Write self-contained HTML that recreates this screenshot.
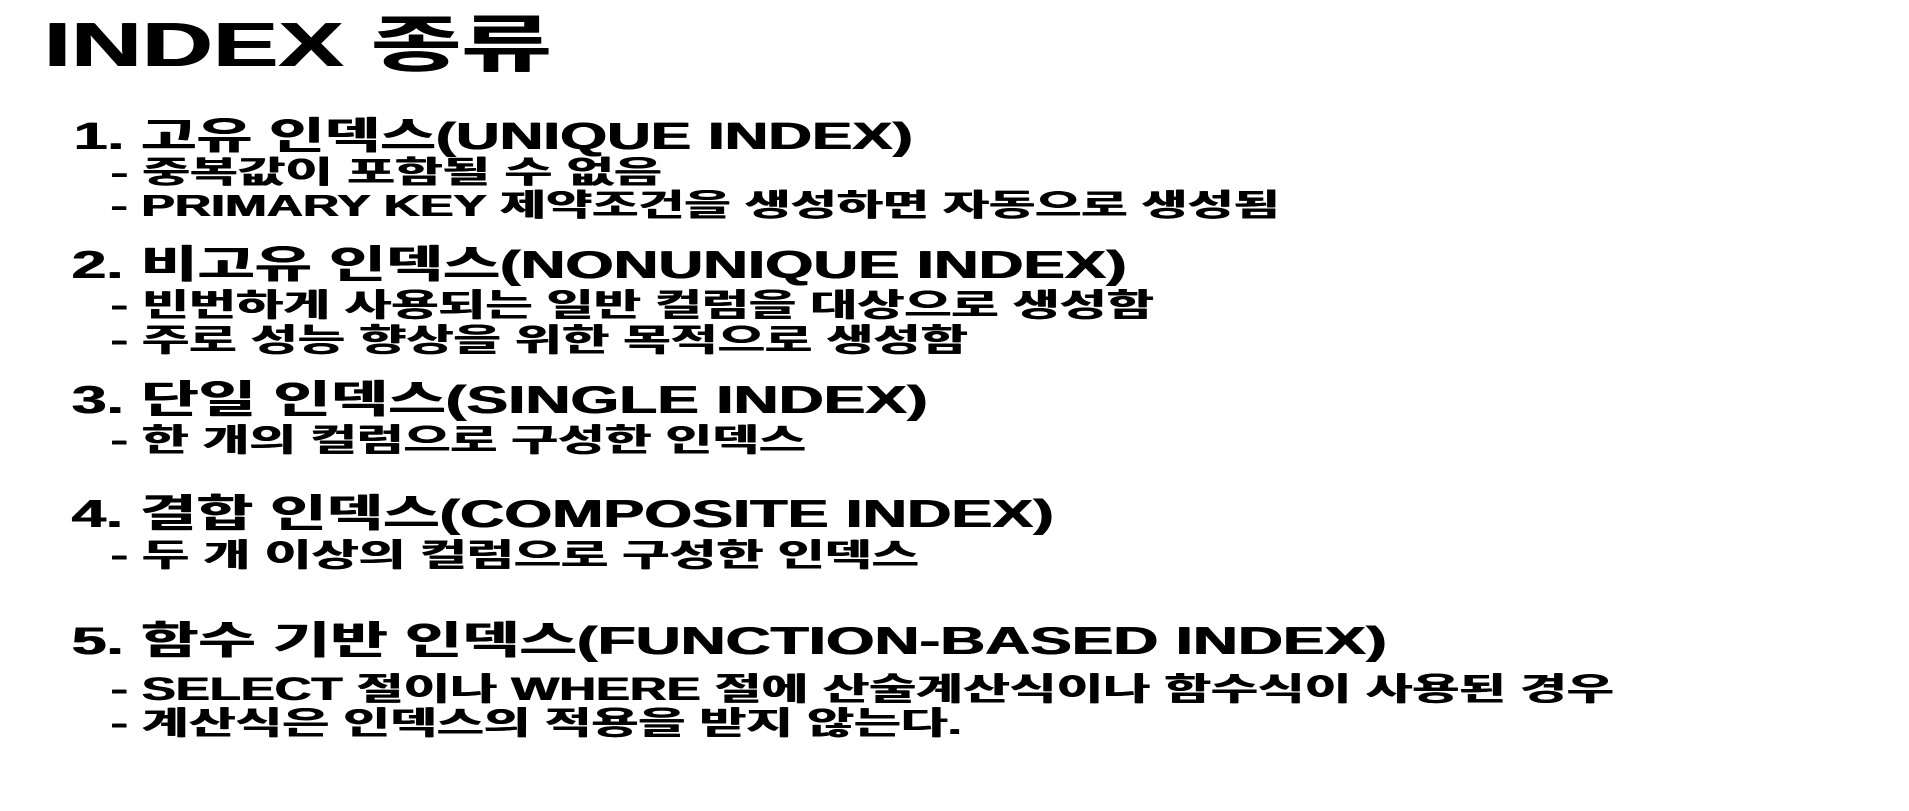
<!DOCTYPE html>
<html><head><meta charset="utf-8"><style>
html,body{margin:0;padding:0;background:#fff;}
body{width:1909px;height:811px;position:relative;overflow:hidden;font-family:"Liberation Sans","Noto Sans CJK KR","NanumGothic",sans-serif;font-weight:bold;color:#000;}
.t{position:absolute;white-space:nowrap;line-height:1;transform-origin:0 0;text-shadow:1px 0 0 #000;}
</style></head><body>
<div class="t" data-w="508" style="left:43px;top:15px;font-size:62px;">INDEX 종류</div>
<div class="t" data-w="839" style="left:73px;top:118px;font-size:38px;">1. 고유 인덱스(UNIQUE INDEX)</div>
<div class="t" data-w="551" style="left:110px;top:157px;font-size:31px;">- 중복값이 포함될 수 없음</div>
<div class="t" data-w="1169" style="left:110px;top:190px;font-size:31px;">- PRIMARY KEY 제약조건을 생성하면 자동으로 생성됨</div>
<div class="t" data-w="1055" style="left:71px;top:246px;font-size:39px;">2. 비고유 인덱스(NONUNIQUE INDEX)</div>
<div class="t" data-w="1043" style="left:110px;top:289px;font-size:32px;">- 빈번하게 사용되는 일반 컬럼을 대상으로 생성함</div>
<div class="t" data-w="857" style="left:110px;top:324px;font-size:32px;">- 주로 성능 향상을 위한 목적으로 생성함</div>
<div class="t" data-w="856" style="left:71px;top:381px;font-size:39px;">3. 단일 인덱스(SINGLE INDEX)</div>
<div class="t" data-w="695" style="left:110px;top:424px;font-size:32px;">- 한 개의 컬럼으로 구성한 인덱스</div>
<div class="t" data-w="982" style="left:71px;top:495px;font-size:39px;">4. 결합 인덱스(COMPOSITE INDEX)</div>
<div class="t" data-w="808" style="left:110px;top:539px;font-size:32px;">- 두 개 이상의 컬럼으로 구성한 인덱스</div>
<div class="t" data-w="1315" style="left:71px;top:622px;font-size:39px;">5. 함수 기반 인덱스(FUNCTION-BASED INDEX)</div>
<div class="t" data-w="1503" style="left:110px;top:673px;font-size:32px;">- SELECT 절이나 WHERE 절에 산술계산식이나 함수식이 사용된 경우</div>
<div class="t" data-w="851" style="left:110px;top:707px;font-size:32px;">- 계산식은 인덱스의 적용을 받지 않는다.</div>
<script>
document.querySelectorAll('.t').forEach(function(el){
  var w=el.getBoundingClientRect().width;
  var target=parseFloat(el.getAttribute('data-w'));
  if(w>0){el.style.transform='scaleX('+(target/w)+')';}
});
</script>
</body></html>
